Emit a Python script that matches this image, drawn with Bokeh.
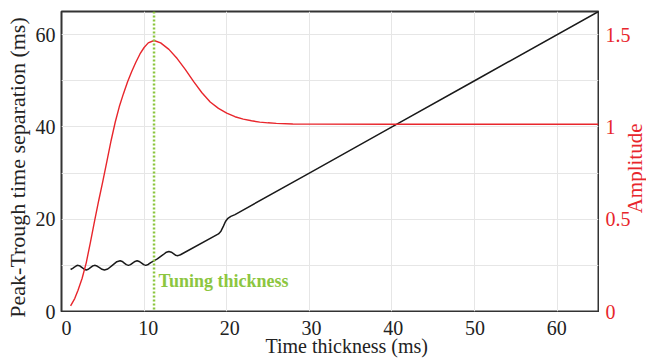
import math
from bokeh.plotting import figure
from bokeh.layouts import row, column
from bokeh.models import Range1d, FixedTicker, Span
from bokeh.core.properties import value
from bokeh.embed import file_html
from bokeh.resources import INLINE

# ---- data ----
thickness_amp = [1.1, 1.6, 2.0, 2.5, 3.0, 3.5, 4.0, 4.5, 5.0, 5.5, 6.0, 6.5, 7.0, 7.5,
                 8.0, 8.5, 9.0, 9.5, 10.0, 10.5, 11.2, 12.0, 13.0, 14.0, 15.0, 16.0,
                 17.0, 18.0, 19.0, 20.0, 21.0, 22.0, 23.0, 24.0, 25.0, 26.0, 28.0,
                 30.0, 40.0, 50.0, 65.0]
amplitude = [0.03, 0.07, 0.115, 0.18, 0.265, 0.375, 0.49, 0.60, 0.705, 0.815, 0.925,
             1.025, 1.11, 1.18, 1.245, 1.30, 1.35, 1.395, 1.43, 1.455, 1.468, 1.455,
             1.42, 1.37, 1.31, 1.245, 1.185, 1.135, 1.10, 1.075, 1.055, 1.042, 1.033,
             1.026, 1.022, 1.019, 1.016, 1.015, 1.014, 1.014, 1.014]

thickness_sep = [1.1, 1.35, 1.6, 1.8, 2.0, 2.25, 2.5, 2.75, 3.0, 3.25, 3.5, 3.75, 4.0,
                 4.3, 4.6, 4.9, 5.2, 5.6, 6.15, 6.7, 7.1, 7.35, 7.6, 7.85, 8.1, 8.35,
                 8.6, 8.9, 9.15, 9.4, 9.7, 9.95, 10.2, 10.5, 10.8, 11.6, 12.3, 12.7,
                 13.0, 13.3, 13.55, 13.8, 14.1, 14.4, 19.0, 19.3, 19.6, 19.85, 20.1,
                 20.5, 21.0, 30.0, 40.0, 50.0, 65.0]
separation = [9.1, 9.35, 9.65, 9.9, 10.0, 9.85, 9.5, 9.15, 9.0, 9.15, 9.5, 9.85, 10.0,
              9.85, 9.5, 9.15, 9.0, 9.2, 10.0, 10.8, 11.0, 10.85, 10.5, 10.15, 10.0,
              10.15, 10.5, 10.85, 11.0, 10.85, 10.5, 10.15, 10.0, 10.2, 10.6, 11.4,
              12.3, 12.85, 13.0, 12.85, 12.55, 12.2, 12.1, 12.3, 16.8, 17.4, 18.5,
              19.5, 20.1, 20.6, 21.0, 30.0, 40.0, 50.0, 65.0]

tuning_thickness = 11.2
x_ticks = [0, 10, 20, 30, 40, 50, 60]
x_tick_labels = ["0", "10", "20", "30", "40", "50", "60"]
left_ticks = [0, 20, 40, 60]
left_tick_labels = ["0", "20", "40", "60"]
grid_y = [10, 20, 30, 40, 50, 60]
right_ticks = [0, 0.5, 1, 1.5]
right_tick_labels = ["0", "0.5", "1", "1.5"]

X_MAX, Y_MAX = 65, 65
AMP_MAX = 65 / 40

RED = "#e8262c"
GREEN = "#8cc63f"
DARK = "#333333"
TXT = "#222222"
GRID = "#e6e6e6"
FONT = "Liberation Serif"

# ---- layout geometry (pixels) ----
LEFT_W = 56                        # strip left of the plot (y ticks + title)
MAIN_W, MAIN_H = 543, 312          # main plot canvas
F_LEFT, F_TOP, F_RIGHT, F_BOTTOM = 5, 11, 542, 311   # its frame inside that canvas
BOT_H = 46                         # strip under the plot (x ticks + title)
RIGHT_W = 47                       # strip right of the plot (amplitude ticks + title)
TOTAL_H = MAIN_H + BOT_H


def strip(width, height, x_range, y_range):
    f = figure(width=width, height=height, x_range=x_range, y_range=y_range,
               x_axis_location=None, y_axis_location=None,
               output_backend="svg", toolbar_location=None,
               min_border=0, min_border_left=0, min_border_right=0,
               min_border_top=0, min_border_bottom=0, outline_line_color=None,
               background_fill_color="white", border_fill_color="white")
    f.grid.visible = False
    return f


# ---- main plot ----
p = figure(width=MAIN_W, height=MAIN_H, x_range=Range1d(0, X_MAX),
           y_range=Range1d(0, Y_MAX), x_axis_location=None, y_axis_location=None,
           output_backend="svg", toolbar_location=None,
           min_border=0, min_border_left=F_LEFT, min_border_top=F_TOP,
           min_border_right=MAIN_W - F_RIGHT, min_border_bottom=MAIN_H - F_BOTTOM,
           background_fill_color="white", border_fill_color="white")
p.outline_line_color = DARK
p.outline_line_width = 2
p.outline_line_alpha = 1
p.xgrid.ticker = FixedTicker(ticks=x_ticks)
p.ygrid.ticker = FixedTicker(ticks=grid_y)
p.xgrid.grid_line_color = GRID
p.ygrid.grid_line_color = GRID

p.line(thickness_sep, separation, line_color="#1a1a1a", line_width=1.5)
p.extra_y_ranges = {"amp": Range1d(0, AMP_MAX)}
p.line(thickness_amp, amplitude, line_color=RED, line_width=1.4, y_range_name="amp")
p.add_layout(Span(location=tuning_thickness, dimension="height", line_color=GREEN,
                  line_dash="2 2", line_width=2.5))
p.text(x=[11.75], y=[6.7], text=["Tuning thickness"], text_font=value(FONT),
       text_font_style="bold", text_font_size="18px", text_color=GREEN,
       text_baseline="middle", text_align="left")

# ---- left strip: y tick labels and y title on the same y scale ----
ppy = (F_BOTTOM - F_TOP) / Y_MAX
l = strip(LEFT_W, TOTAL_H, Range1d(0, LEFT_W),
          Range1d(-(TOTAL_H - F_BOTTOM) / ppy, Y_MAX + F_TOP / ppy))
l.text(x=[55] * len(left_ticks), y=left_ticks, text=left_tick_labels,
       text_font=value(FONT), text_font_size="20px", text_color=TXT,
       text_align="right", text_baseline="middle")
l.text(x=[17], y=[31.2], text=["Peak-Trough time separation (ms)"], angle=math.pi / 2,
       text_font=value(FONT), text_font_size="22px", text_color=TXT,
       text_align="center", text_baseline="middle")

# ---- bottom strip: x tick labels and x title on the same x scale ----
ppx = (F_RIGHT - F_LEFT) / X_MAX
r = strip(MAIN_W, BOT_H,
          Range1d(-F_LEFT / ppx, X_MAX + (MAIN_W - F_RIGHT) / ppx),
          Range1d(0, BOT_H))
r.text(x=x_ticks, y=[30.5] * len(x_ticks), text=x_tick_labels, text_font=value(FONT),
       text_font_size="20px", text_color=TXT, text_align="center",
       text_baseline="middle")
r.text(x=[34.3], y=[12.5], text=["Time thickness (ms)"], text_font=value(FONT),
       text_font_size="20px", text_color=TXT, text_align="center",
       text_baseline="middle")

# ---- right strip: amplitude tick labels and title on the amplitude scale ----
ppa = (F_BOTTOM - F_TOP) / AMP_MAX
q = strip(RIGHT_W, TOTAL_H, Range1d(0, RIGHT_W),
          Range1d(-(TOTAL_H - F_BOTTOM) / ppa, AMP_MAX + F_TOP / ppa))
q.text(x=[6] * len(right_ticks), y=right_ticks, text=right_tick_labels,
       text_font=value(FONT), text_font_size="20px", text_color=RED,
       text_align="left", text_baseline="middle")
q.text(x=[35], y=[0.775], text=["Amplitude"], angle=math.pi / 2,
       text_font=value(FONT), text_font_size="21px", text_color=RED,
       text_align="center", text_baseline="middle")

layout = row(l, column(p, r, spacing=0), q, spacing=0)
open("out.html", "w").write(file_html(layout, INLINE))
